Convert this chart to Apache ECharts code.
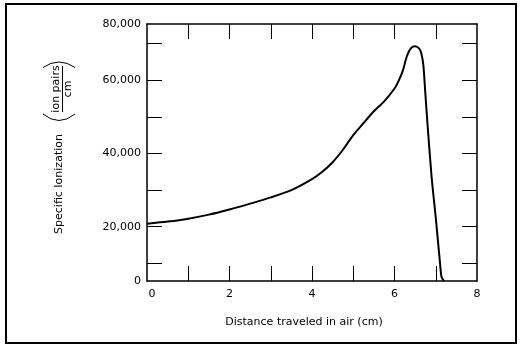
<!DOCTYPE html>
<html><head><meta charset="utf-8">
<script src="https://cdn.jsdelivr.net/npm/echarts@6/dist/echarts.min.js"></script>
<style>html,body{margin:0;padding:0;background:#fff}#c{width:520px;height:344px}</style>
</head><body><div id="c"></div>
<script>
// Distance traveled in air (cm)
const distance = [0, 0.5, 1, 1.5, 2, 2.5, 3, 3.5, 4, 4.25, 4.5, 4.75, 5, 5.25, 5.5, 5.75, 6, 6.1, 6.2, 6.3, 6.4, 6.5, 6.6, 6.65, 6.7, 6.75, 6.8, 6.9, 7.0, 7.1, 7.14, 7.2];
// Specific ionization (ion pairs / cm)
const ionization = [20800, 21400, 22200, 23300, 24700, 26300, 28000, 30000, 33000, 35000, 37600, 41000, 45000, 48300, 51500, 54200, 57700, 59800, 62500, 66500, 68700, 69200, 68600, 67300, 64000, 56000, 48000, 33500, 22500, 10500, 6300, 5200];

const xTickValues = [1, 2, 3, 4, 5, 6, 7];
const xLabelValues = [0, 2, 4, 6, 8];
const yTickValues = [10000, 20000, 30000, 40000, 50000, 60000, 70000];
const yMin = 5200, yMax = 75300;
const yLabelValues = [yMin, 20000, 40000, 60000, yMax];
const yLabelTexts = ['0', '20,000', '40,000', '60,000', '80,000'];

const FONT = 'DejaVu Sans';
const chart = echarts.init(document.getElementById('c'), null, {renderer: 'canvas'});

function xAxisCfg(pos, labels) {
  return {
    type: 'value', position: pos, min: 0, max: 8,
    axisLine: {show: true, onZero: false, lineStyle: {color: '#000', width: 1.5}},
    axisTick: {show: true, inside: true, length: 15, customValues: xTickValues, lineStyle: {color: '#000', width: 1}},
    axisLabel: labels ? {
      show: true, customValues: xLabelValues, margin: 8, color: '#000', fontFamily: FONT, fontSize: 11,
      formatter: v => v === 0 ? '{z|0}' : String(v),
      rich: {z: {padding: [0, 0, 0, 10], color: '#000', fontFamily: FONT, fontSize: 11}}
    } : {show: false},
    splitLine: {show: false}
  };
}
function yAxisCfg(pos, labels) {
  return {
    type: 'value', position: pos, min: yMin, max: yMax,
    axisLine: {show: true, onZero: false, lineStyle: {color: '#000', width: 1.5}},
    axisTick: {show: true, inside: true, length: 15, customValues: yTickValues, lineStyle: {color: '#000', width: 1}},
    axisLabel: labels ? {
      show: true, customValues: yLabelValues, margin: 6, color: '#000', fontFamily: FONT, fontSize: 11,
      formatter: v => yLabelTexts[yLabelValues.indexOf(v)] || ''
    } : {show: false},
    splitLine: {show: false}
  };
}

const textStyle = (t) => ({text: t, font: '11px "DejaVu Sans"', fill: '#000', align: 'center', verticalAlign: 'middle', textAlign: 'center', textVerticalAlign: 'middle'});

chart.setOption({
  animation: false,
  backgroundColor: '#fff',
  grid: {left: 147, right: 43, top: 24, bottom: 63, containLabel: false, outerBoundsMode: 'none'},
  xAxis: [xAxisCfg('bottom', true), xAxisCfg('top', false)],
  yAxis: [yAxisCfg('left', true), yAxisCfg('right', false)],
  series: [{
    type: 'line', xAxisIndex: 0, yAxisIndex: 0,
    data: distance.map((d, i) => [d, ionization[i]]),
    showSymbol: false, smooth: 0.25,
    lineStyle: {color: '#000', width: 2}, clip: false
  }],
  graphic: [
    {type: 'rect', shape: {x: 6, y: 4, width: 510, height: 339}, style: {fill: 'none', stroke: '#000', lineWidth: 2}},
    {type: 'text', x: 304, y: 322, style: textStyle('Distance traveled in air (cm)')},
    {type: 'text', x: 59, y: 184, rotation: Math.PI / 2, style: textStyle('Specific Ionization')},
    {type: 'text', x: 56, y: 89, rotation: Math.PI / 2, style: textStyle('ion pairs')},
    {type: 'text', x: 68.5, y: 89, rotation: Math.PI / 2, style: textStyle('cm')},
    {type: 'line', shape: {x1: 62.5, y1: 66, x2: 62.5, y2: 112}, style: {stroke: '#000', lineWidth: 1}},
    {type: 'bezierCurve', shape: {x1: 43, y1: 67.5, x2: 75, y2: 67.5, cpx1: 59, cpy1: 56.5}, style: {stroke: '#000', lineWidth: 1, fill: 'none'}},
    {type: 'bezierCurve', shape: {x1: 43, y1: 114, x2: 75, y2: 114, cpx1: 59, cpy1: 127}, style: {stroke: '#000', lineWidth: 1, fill: 'none'}}
  ]
});
</script></body></html>
